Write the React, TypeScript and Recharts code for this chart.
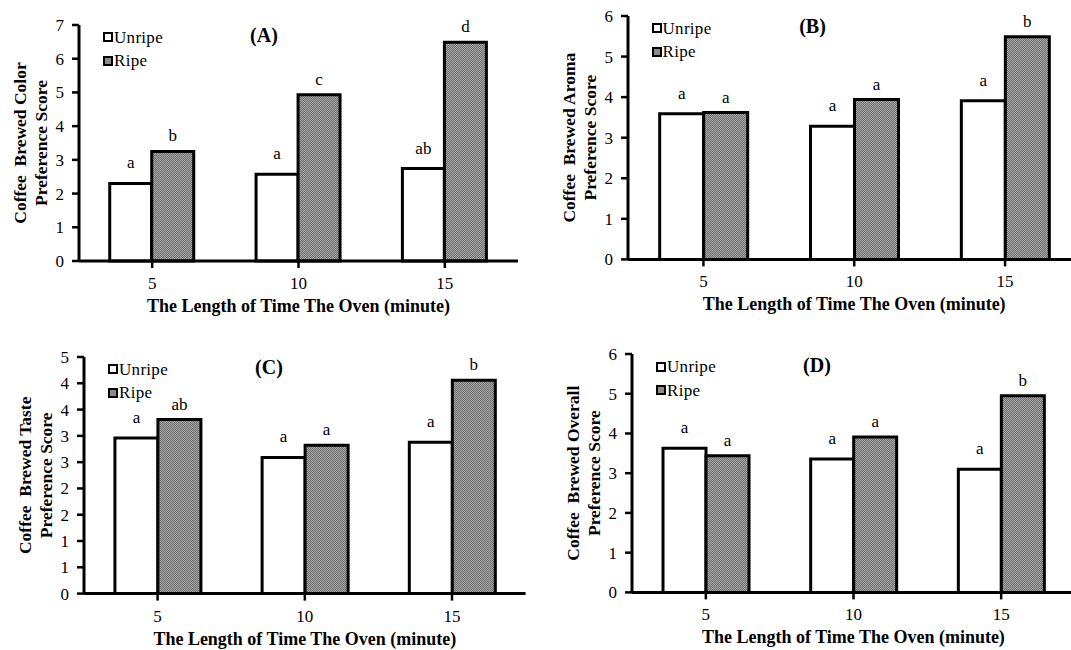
import React from "react";
import { BarChart, Bar, XAxis, YAxis, LabelList, Label, Legend } from "recharts";

const CATEGORIES = ["5", "10", "15"];
const SERIES = ["Unripe", "Ripe"];

// (A) colour
const COLOR_UNRIPE = [2.3, 2.57, 2.74];
const COLOR_RIPE = [3.25, 4.93, 6.49];
const COLOR_UNRIPE_LETTERS = ["a", "a", "ab"];
const COLOR_RIPE_LETTERS = ["b", "c", "d"];

// (B) aroma
const AROMA_UNRIPE = [3.59, 3.28, 3.91];
const AROMA_RIPE = [3.62, 3.94, 5.49];
const AROMA_UNRIPE_LETTERS = ["a", "a", "a"];
const AROMA_RIPE_LETTERS = ["a", "a", "b"];

// (C) taste
const TASTE_UNRIPE = [2.96, 2.59, 2.88];
const TASTE_RIPE = [3.31, 2.82, 4.06];
const TASTE_UNRIPE_LETTERS = ["a", "a", "a"];
const TASTE_RIPE_LETTERS = ["ab", "a", "b"];

// (D) overall
const OVERALL_UNRIPE = [3.63, 3.36, 3.1];
const OVERALL_RIPE = [3.44, 3.91, 4.95];
const OVERALL_UNRIPE_LETTERS = ["a", "a", "a"];
const OVERALL_RIPE_LETTERS = ["a", "a", "b"];

const TICKS_A = [0, 1, 2, 3, 4, 5, 6, 7];
const TICKS_B = [0, 1, 2, 3, 4, 5, 6];
const TICKS_C = [0, 0.5, 1, 1.5, 2, 2.5, 3, 3.5, 4, 4.5];
const TICKS_D = [0, 1, 2, 3, 4, 5, 6];

const X_TITLE = "The Length of Time The Oven (minute)";

const FONT = "Liberation Serif, Times New Roman, DejaVu Serif, serif";
const Y_AXIS_W = 80;
const TOP = 25;
const X_AXIS_H = 62;
const RIGHT = 14;
const GRAY = "#8c8c8c";

type PanelProps = {
  id: string;
  title: string;
  yLines: string[];
  unripe: number[];
  ripe: number[];
  unripeLetters: string[];
  ripeLetters: string[];
  ticks: number[];
  axisX: number;
  plotTop: number;
  plotW: number;
  plotH: number;
};

const renderYTitle = (lines: string[]) => (props: any) => {
  const { x, y, width, height } = props.viewBox;
  const ax = x + width;
  const cy = y + height / 2;
  return (
    <g>
      {lines.map((l, i) => {
        const px = ax - 53 + i * 21;
        return (
          <text
            key={i}
            x={px}
            y={cy}
            transform={`rotate(-90, ${px}, ${cy})`}
            textAnchor="middle"
            xmlSpace="preserve"
            style={{ whiteSpace: "pre", fontFamily: FONT, fontWeight: "bold", fontSize: 17.5 }}
            fill="#000"
          >
            {l}
          </text>
        );
      })}
    </g>
  );
};

const renderXTitle = (props: any) => {
  const { x, y, width } = props.viewBox;
  return (
    <text
      x={x + width / 2}
      y={y + 51}
      textAnchor="middle"
      style={{ fontFamily: FONT, fontWeight: "bold", fontSize: 18 }}
      fill="#000"
    >
      {X_TITLE}
    </text>
  );
};

const renderLegend = () => (
  <div style={{ fontFamily: FONT, fontSize: 17, color: "#000" }}>
    {SERIES.map((s, i) => (
      <div key={s} style={{ display: "flex", alignItems: "center", height: 23.5, lineHeight: "23px" }}>
        <span
          style={{
            display: "inline-block",
            width: 10,
            height: 10,
            boxSizing: "border-box",
            border: "2px solid #000",
            background: i === 0 ? "#fff" : GRAY,
          }}
        />
        <span style={{ marginLeft: 1, letterSpacing: 0.3 }}>{s}</span>
      </div>
    ))}
  </div>
);

const Panel = (p: PanelProps) => {
  const data = CATEGORIES.map((c, i) => ({
    cat: c,
    unripe: p.unripe[i],
    ripe: p.ripe[i],
    uL: p.unripeLetters[i],
    rL: p.ripeLetters[i],
  }));
  const W = Y_AXIS_W + p.plotW + RIGHT;
  const H = TOP + p.plotH + X_AXIS_H;
  const tickStyle = { fontFamily: FONT, fontSize: 17, fill: "#000", style: { fontFamily: FONT } };
  const axisStroke = { stroke: "#000", strokeWidth: 3 };
  const labelStyle = { fontFamily: FONT, fontSize: 17, fill: "#000", style: { fontFamily: FONT } };
  return (
    <div style={{ position: "absolute", left: p.axisX - Y_AXIS_W, top: p.plotTop - TOP, width: W, height: H }}>
      <BarChart
        width={W}
        height={H}
        data={data}
        margin={{ top: TOP, right: RIGHT, left: 0, bottom: 0 }}
        barCategoryGap="21%"
        barGap={0}
        style={{ fontFamily: FONT }}
      >
        <defs>
          <pattern id={`dots-${p.id}`} width={2} height={2} patternUnits="userSpaceOnUse">
            <rect width={2} height={2} fill="#a6a6a6" />
            <rect width={1} height={1} fill="#6f6f6f" />
            <rect x={1} y={1} width={1} height={1} fill="#6f6f6f" />
          </pattern>
        </defs>
        <XAxis
          dataKey="cat"
          height={X_AXIS_H}
          axisLine={axisStroke}
          tickLine={{ stroke: "#000", strokeWidth: 2.5 }}
          tickSize={7}
          tickMargin={9}
          tick={tickStyle}
        >
          <Label content={renderXTitle} />
        </XAxis>
        <YAxis
          width={Y_AXIS_W}
          domain={[0, p.ticks[p.ticks.length - 1]]}
          ticks={p.ticks}
          interval={0}
          tickFormatter={(v: number) => String(Math.round(v))}
          axisLine={axisStroke}
          tickLine={{ stroke: "#000", strokeWidth: 2.5 }}
          tickSize={7}
          tickMargin={8}
          tick={tickStyle}
        >
          <Label content={renderYTitle(p.yLines)} />
        </YAxis>
        <Legend
          content={renderLegend}
          layout="horizontal"
          verticalAlign="middle"
          align="center"
          wrapperStyle={{ left: Y_AXIS_W + 24, top: TOP + 0.8, width: 90, height: 47 }}
        />
        <Bar dataKey="unripe" name="Unripe" fill="#fff" stroke="#000" strokeWidth={3} isAnimationActive={false}>
          <LabelList dataKey="uL" position="top" offset={15} {...labelStyle} />
        </Bar>
        <Bar dataKey="ripe" name="Ripe" fill={`url(#dots-${p.id})`} stroke="#000" strokeWidth={3} isAnimationActive={false}>
          <LabelList dataKey="rL" position="top" offset={10} {...labelStyle} />
        </Bar>
      </BarChart>
      <div
        style={{
          position: "absolute",
          left: Y_AXIS_W + 185 - 40,
          top: TOP + 17 - 16.7,
          width: 80,
          textAlign: "center",
          fontFamily: FONT,
          fontWeight: "bold",
          fontSize: 20,
          lineHeight: "20px",
          color: "#000",
        }}
      >
        {p.title}
      </div>
    </div>
  );
};

export default function App() {
  return (
    <div
      style={{
        position: "absolute",
        left: 0,
        top: 0,
        width: 1071,
        height: 650,
        overflow: "hidden",
        background: "#fff",
        fontFamily: FONT,
      }}
    >
      <Panel
        id="a"
        title="(A)"
        yLines={["Coffee  Brewed Color", "Preference Score"]}
        unripe={COLOR_UNRIPE}
        ripe={COLOR_RIPE}
        unripeLetters={COLOR_UNRIPE_LETTERS}
        ripeLetters={COLOR_RIPE_LETTERS}
        ticks={TICKS_A}
        axisX={79}
        plotTop={24.5}
        plotW={439}
        plotH={236}
      />
      <Panel
        id="b"
        title="(B)"
        yLines={["Coffee  Brewed Aroma", "Preference Score"]}
        unripe={AROMA_UNRIPE}
        ripe={AROMA_RIPE}
        unripeLetters={AROMA_UNRIPE_LETTERS}
        ripeLetters={AROMA_RIPE_LETTERS}
        ticks={TICKS_B}
        axisX={627.5}
        plotTop={15.6}
        plotW={452.5}
        plotH={243.4}
      />
      <Panel
        id="c"
        title="(C)"
        yLines={["Coffee  Brewed Taste", "Preference Score"]}
        unripe={TASTE_UNRIPE}
        ripe={TASTE_RIPE}
        unripeLetters={TASTE_UNRIPE_LETTERS}
        ripeLetters={TASTE_RIPE_LETTERS}
        ticks={TICKS_C}
        axisX={84}
        plotTop={356.7}
        plotW={441.6}
        plotH={236.6}
      />
      <Panel
        id="d"
        title="(D)"
        yLines={["Coffee  Brewed Overall", "Preference Score"]}
        unripe={OVERALL_UNRIPE}
        ripe={OVERALL_RIPE}
        unripeLetters={OVERALL_UNRIPE_LETTERS}
        ripeLetters={OVERALL_RIPE_LETTERS}
        ticks={TICKS_D}
        axisX={632}
        plotTop={354.3}
        plotW={443}
        plotH={238.4}
      />
    </div>
  );
}
